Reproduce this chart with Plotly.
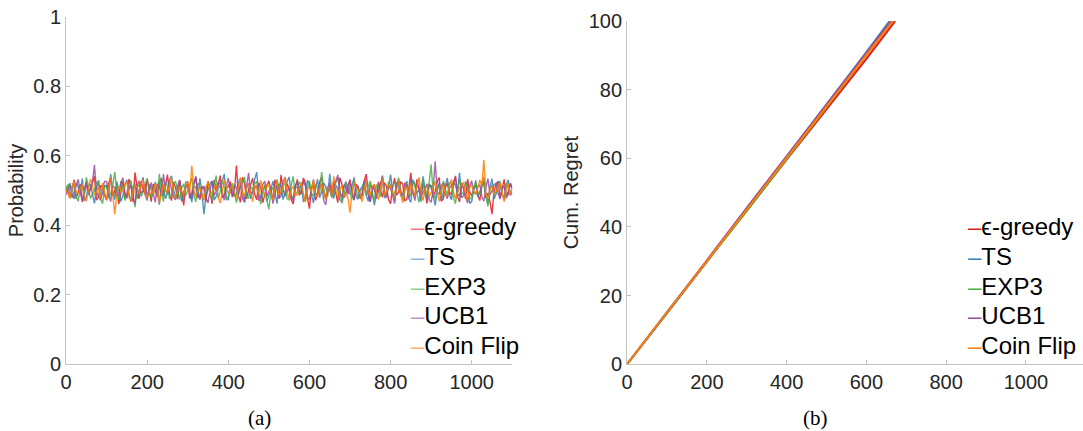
import plotly.graph_objects as go

# colours (Set1)
RED = "#e41a1c"
BLUE = "#377eb8"
GREEN = "#4daf4a"
PURPLE = "#984ea3"
ORANGE = "#ff7f00"
PALE = ["#f07a7b", "#8ab4d9", "#92cf90", "#c497cc", "#ffb266"]

FONT = "Liberation Sans, Arial, Helvetica, sans-serif"
SERIF = "Liberation Serif, Times New Roman, serif"
TICK_COLOR = "#262626"
AXIS_COLOR = "#c4c4c4"

names = ["ϵ-greedy", "TS", "EXP3", "UCB1", "Coin Flip"]
colors = [RED, BLUE, GREEN, PURPLE, ORANGE]

# ---- panel (a): probability per step (read every 5 steps) ----
steps = list(range(0, 1101, 5))

prob_eps = [
    0.512, 0.493, 0.478, 0.507, 0.531, 0.476, 0.495, 0.518, 0.467, 0.489, 0.524, 0.497, 0.503, 0.526, 0.541, 0.472, 0.482, 0.515, 0.509, 0.486,
    0.472, 0.521, 0.537, 0.484, 0.498, 0.512, 0.461, 0.495, 0.526, 0.478, 0.489, 0.533, 0.515, 0.468, 0.552, 0.509, 0.476, 0.527, 0.503, 0.491,
    0.534, 0.502, 0.468, 0.519, 0.497, 0.483, 0.521, 0.536, 0.484, 0.511, 0.546, 0.488, 0.471, 0.524, 0.508, 0.475, 0.529, 0.498, 0.457, 0.514,
    0.516, 0.477, 0.493, 0.521, 0.538, 0.489, 0.474, 0.512, 0.505, 0.468, 0.527, 0.495, 0.462, 0.531, 0.499, 0.516, 0.543, 0.479, 0.487, 0.508,
    0.511, 0.526, 0.481, 0.497, 0.572, 0.484, 0.466, 0.538, 0.519, 0.476, 0.502, 0.517, 0.535, 0.489, 0.473, 0.522, 0.508, 0.465, 0.491, 0.513,
    0.528, 0.492, 0.469, 0.531, 0.514, 0.478, 0.545, 0.503, 0.483, 0.519, 0.506, 0.474, 0.461, 0.507, 0.532, 0.486, 0.497, 0.536, 0.522, 0.481,
    0.448, 0.509, 0.513, 0.472, 0.487, 0.524, 0.539, 0.496, 0.476, 0.512, 0.501, 0.483, 0.526, 0.491, 0.465, 0.537, 0.518, 0.479, 0.494, 0.515,
    0.531, 0.496, 0.472, 0.518, 0.509, 0.476, 0.487, 0.528, 0.547, 0.492, 0.468, 0.514, 0.503, 0.485, 0.525, 0.499, 0.481, 0.523, 0.512, 0.473,
    0.462, 0.509, 0.536, 0.487, 0.495, 0.524, 0.519, 0.471, 0.474, 0.506, 0.551, 0.493, 0.486, 0.532, 0.508, 0.477, 0.529, 0.498, 0.463, 0.517,
    0.514, 0.481, 0.498, 0.526, 0.537, 0.469, 0.476, 0.508, 0.521, 0.494, 0.489, 0.517, 0.542, 0.483, 0.467, 0.522, 0.505, 0.476, 0.533, 0.497,
    0.484, 0.503, 0.516, 0.488, 0.471, 0.512, 0.527, 0.479, 0.493, 0.468, 0.432, 0.497, 0.518, 0.526, 0.479, 0.504, 0.532, 0.485, 0.496, 0.521, 0.509,
]
prob_ts = [
    0.495, 0.508, 0.521, 0.489, 0.476, 0.523, 0.508, 0.497, 0.534, 0.471, 0.482, 0.512, 0.517, 0.486, 0.463, 0.504, 0.529, 0.478, 0.491, 0.515,
    0.513, 0.482, 0.547, 0.499, 0.474, 0.526, 0.502, 0.468, 0.485, 0.514, 0.531, 0.492, 0.468, 0.509, 0.519, 0.477, 0.496, 0.521, 0.538, 0.487,
    0.471, 0.517, 0.506, 0.484, 0.525, 0.498, 0.459, 0.521, 0.512, 0.476, 0.493, 0.531, 0.542, 0.503, 0.478, 0.495, 0.516, 0.468, 0.487, 0.524,
    0.524, 0.491, 0.467, 0.512, 0.509, 0.478, 0.535, 0.494, 0.432, 0.486, 0.501, 0.519, 0.528, 0.472, 0.483, 0.506, 0.514, 0.527, 0.548, 0.481,
    0.472, 0.516, 0.507, 0.483, 0.489, 0.524, 0.536, 0.497, 0.465, 0.509, 0.521, 0.476, 0.498, 0.532, 0.553, 0.488, 0.479, 0.502, 0.511, 0.469,
    0.486, 0.503, 0.527, 0.491, 0.462, 0.518, 0.515, 0.474, 0.493, 0.526, 0.539, 0.487, 0.474, 0.511, 0.508, 0.495, 0.522, 0.467, 0.481, 0.529,
    0.517, 0.488, 0.464, 0.507, 0.533, 0.479, 0.496, 0.521, 0.512, 0.484, 0.548, 0.498, 0.477, 0.516, 0.504, 0.473, 0.469, 0.512, 0.526, 0.494,
    0.491, 0.514, 0.538, 0.482, 0.475, 0.503, 0.511, 0.527, 0.486, 0.469, 0.523, 0.496, 0.458, 0.489, 0.507, 0.521, 0.532, 0.478, 0.494, 0.508,
    0.546, 0.497, 0.471, 0.524, 0.513, 0.485, 0.488, 0.509, 0.527, 0.476, 0.466, 0.531, 0.519, 0.492, 0.503, 0.468, 0.541, 0.505, 0.478, 0.517,
    0.509, 0.486, 0.457, 0.498, 0.524, 0.471, 0.492, 0.513, 0.536, 0.489, 0.473, 0.522, 0.515, 0.494, 0.551, 0.479, 0.484, 0.526, 0.506, 0.463,
    0.468, 0.502, 0.529, 0.481, 0.497, 0.513, 0.518, 0.487, 0.462, 0.509, 0.534, 0.476, 0.489, 0.527, 0.512, 0.491, 0.475, 0.514, 0.531, 0.486, 0.493,
]
prob_exp3 = [
    0.503, 0.519, 0.486, 0.497, 0.524, 0.481, 0.469, 0.506, 0.512, 0.488, 0.538, 0.514, 0.477, 0.492, 0.501, 0.523, 0.527, 0.476, 0.462, 0.508,
    0.516, 0.478, 0.491, 0.512, 0.554, 0.496, 0.473, 0.527, 0.508, 0.471, 0.485, 0.503, 0.529, 0.489, 0.452, 0.509, 0.517, 0.482, 0.496, 0.521,
    0.534, 0.493, 0.479, 0.511, 0.506, 0.487, 0.548, 0.502, 0.468, 0.524, 0.513, 0.476, 0.492, 0.518, 0.527, 0.498, 0.474, 0.507, 0.519, 0.485,
    0.501, 0.514, 0.536, 0.489, 0.467, 0.521, 0.511, 0.483, 0.488, 0.506, 0.525, 0.497, 0.471, 0.512, 0.543, 0.478, 0.496, 0.529, 0.508, 0.472,
    0.483, 0.506, 0.521, 0.494, 0.465, 0.489, 0.514, 0.527, 0.539, 0.482, 0.478, 0.511, 0.503, 0.519, 0.526, 0.487, 0.461, 0.498, 0.517, 0.473,
    0.446, 0.497, 0.509, 0.482, 0.532, 0.508, 0.487, 0.521, 0.518, 0.476, 0.473, 0.514, 0.541, 0.489, 0.495, 0.526, 0.512, 0.483, 0.468, 0.505,
    0.528, 0.492, 0.484, 0.517, 0.507, 0.488, 0.553, 0.509, 0.476, 0.497, 0.514, 0.479, 0.491, 0.524, 0.535, 0.501, 0.463, 0.486, 0.521, 0.513,
    0.497, 0.474, 0.532, 0.506, 0.479, 0.495, 0.511, 0.522, 0.486, 0.513, 0.527, 0.488, 0.469, 0.517, 0.508, 0.481, 0.544, 0.499, 0.482, 0.526,
    0.516, 0.485, 0.493, 0.519, 0.537, 0.502, 0.471, 0.496, 0.524, 0.478, 0.489, 0.528, 0.512, 0.491, 0.466, 0.507, 0.531, 0.484, 0.498, 0.521,
    0.575, 0.492, 0.474, 0.513, 0.509, 0.487, 0.528, 0.501, 0.483, 0.524, 0.517, 0.479, 0.462, 0.506, 0.534, 0.488, 0.495, 0.519, 0.511, 0.476,
    0.478, 0.509, 0.523, 0.496, 0.487, 0.516, 0.539, 0.482, 0.454, 0.503, 0.514, 0.487, 0.496, 0.512, 0.527, 0.491, 0.473, 0.521, 0.508, 0.498, 0.492,
]
prob_ucb1 = [
    0.488, 0.503, 0.514, 0.479, 0.497, 0.516, 0.532, 0.494, 0.471, 0.508, 0.519, 0.486, 0.505, 0.523, 0.574, 0.497, 0.483, 0.472, 0.511, 0.526,
    0.526, 0.489, 0.468, 0.512, 0.509, 0.483, 0.491, 0.521, 0.537, 0.496, 0.477, 0.507, 0.515, 0.478, 0.462, 0.514, 0.528, 0.492, 0.499, 0.518,
    0.482, 0.507, 0.523, 0.491, 0.466, 0.519, 0.511, 0.484, 0.547, 0.502, 0.489, 0.526, 0.506, 0.481, 0.473, 0.513, 0.531, 0.488, 0.495, 0.509,
    0.518, 0.493, 0.476, 0.514, 0.541, 0.482, 0.487, 0.508, 0.512, 0.479, 0.464, 0.501, 0.527, 0.486, 0.498, 0.522, 0.519, 0.497, 0.472, 0.511,
    0.536, 0.498, 0.485, 0.517, 0.509, 0.489, 0.523, 0.476, 0.468, 0.512, 0.551, 0.494, 0.492, 0.506, 0.514, 0.471, 0.479, 0.518, 0.527, 0.484,
    0.497, 0.511, 0.462, 0.492, 0.518, 0.477, 0.484, 0.523, 0.539, 0.496, 0.506, 0.481, 0.471, 0.514, 0.525, 0.502, 0.489, 0.527, 0.513, 0.478,
    0.476, 0.506, 0.531, 0.487, 0.494, 0.512, 0.517, 0.473, 0.458, 0.499, 0.522, 0.486, 0.501, 0.528, 0.545, 0.493, 0.481, 0.516, 0.509, 0.489,
    0.526, 0.495, 0.474, 0.508, 0.512, 0.483, 0.491, 0.519, 0.533, 0.486, 0.467, 0.504, 0.518, 0.476, 0.497, 0.522, 0.541, 0.491, 0.479, 0.513,
    0.505, 0.487, 0.462, 0.511, 0.528, 0.496, 0.486, 0.523, 0.514, 0.478, 0.535, 0.492, 0.471, 0.517, 0.509, 0.484, 0.493, 0.506, 0.519, 0.474,
    0.466, 0.503, 0.584, 0.497, 0.488, 0.514, 0.521, 0.489, 0.476, 0.508, 0.512, 0.526, 0.539, 0.491, 0.483, 0.516, 0.507, 0.482, 0.464, 0.511,
    0.528, 0.494, 0.491, 0.512, 0.516, 0.483, 0.469, 0.508, 0.534, 0.487, 0.499, 0.517, 0.521, 0.492, 0.475, 0.506, 0.512, 0.478, 0.487, 0.519, 0.503,
]
prob_coin = [
    0.501, 0.489, 0.478, 0.512, 0.527, 0.496, 0.492, 0.508, 0.516, 0.481, 0.469, 0.503, 0.533, 0.514, 0.487, 0.497, 0.509, 0.476, 0.521, 0.494,
    0.474, 0.507, 0.538, 0.491, 0.432, 0.486, 0.512, 0.503, 0.496, 0.518, 0.524, 0.482, 0.468, 0.499, 0.515, 0.511, 0.489, 0.523, 0.531, 0.488,
    0.477, 0.498, 0.506, 0.487, 0.521, 0.509, 0.463, 0.492, 0.518, 0.503, 0.494, 0.516, 0.536, 0.485, 0.479, 0.502, 0.511, 0.496, 0.488, 0.514,
    0.527, 0.493, 0.571, 0.502, 0.483, 0.499, 0.509, 0.488, 0.472, 0.511, 0.524, 0.486, 0.497, 0.507, 0.516, 0.482, 0.464, 0.495, 0.531, 0.509,
    0.491, 0.504, 0.513, 0.495, 0.478, 0.512, 0.537, 0.489, 0.486, 0.506, 0.519, 0.497, 0.468, 0.515, 0.508, 0.488, 0.529, 0.501, 0.482, 0.517,
    0.514, 0.493, 0.471, 0.506, 0.526, 0.487, 0.495, 0.511, 0.538, 0.498, 0.476, 0.503, 0.512, 0.484, 0.489, 0.509, 0.523, 0.492, 0.467, 0.505,
    0.508, 0.496, 0.532, 0.489, 0.484, 0.508, 0.519, 0.494, 0.473, 0.512, 0.505, 0.487, 0.541, 0.502, 0.479, 0.506, 0.514, 0.483, 0.491, 0.478,
    0.436, 0.497, 0.523, 0.509, 0.502, 0.488, 0.468, 0.501, 0.529, 0.493, 0.487, 0.512, 0.516, 0.496, 0.474, 0.507, 0.535, 0.486, 0.496, 0.514,
    0.512, 0.495, 0.478, 0.503, 0.527, 0.491, 0.465, 0.508, 0.509, 0.487, 0.521, 0.499, 0.486, 0.511, 0.538, 0.494, 0.471, 0.505, 0.513, 0.482,
    0.494, 0.507, 0.526, 0.492, 0.469, 0.501, 0.517, 0.488, 0.483, 0.512, 0.532, 0.497, 0.477, 0.493, 0.508, 0.515, 0.524, 0.486, 0.472, 0.509,
    0.515, 0.498, 0.489, 0.507, 0.531, 0.513, 0.588, 0.491, 0.476, 0.504, 0.512, 0.489, 0.497, 0.511, 0.523, 0.495, 0.468, 0.502, 0.519, 0.487, 0.505,
]

# ---- panel (b): cumulative regret (visible part up to 100) ----
regret_x_eps = [0, 100, 200, 300, 400, 500, 600, 672]
regret_eps = [0, 15.0, 29.8, 44.8, 59.6, 74.3, 89.0, 100]
regret_x_ts = [0, 100, 200, 300, 400, 500, 600, 658]
regret_ts = [0, 14.8, 30.0, 45.2, 60.5, 75.6, 91.0, 100]
regret_x_exp3 = [0, 100, 200, 300, 400, 500, 600, 665]
regret_exp3 = [0, 15.2, 30.0, 44.6, 59.8, 75.0, 90.2, 100]
regret_x_ucb1 = [0, 100, 200, 300, 400, 500, 600, 662]
regret_ucb1 = [0, 15.0, 30.3, 45.6, 60.6, 75.5, 90.5, 100]
regret_x_coin = [0, 100, 200, 300, 400, 500, 600, 666]
regret_coin = [0, 15.0, 30.0, 45.0, 60.2, 75.2, 90.0, 100]

prob_series = [prob_eps, prob_ts, prob_exp3, prob_ucb1, prob_coin]
regret_series = [
    (regret_x_eps, regret_eps),
    (regret_x_ts, regret_ts),
    (regret_x_exp3, regret_exp3),
    (regret_x_ucb1, regret_ucb1),
    (regret_x_coin, regret_coin),
]

fig = go.Figure()

for name, color, ys in zip(names, colors, prob_series):
    fig.add_trace(
        go.Scatter(
            x=steps,
            y=ys,
            name=name,
            mode="lines",
            line=dict(color=color, width=1.4),
            opacity=0.85,
            xaxis="x",
            yaxis="y",
            showlegend=False,
        )
    )

for name, color, (xs, ys) in zip(names, colors, regret_series):
    fig.add_trace(
        go.Scatter(
            x=xs,
            y=ys,
            name=name,
            mode="lines",
            line=dict(color=color, width=2),
            xaxis="x2",
            yaxis="y2",
            showlegend=False,
        )
    )

axis_common = dict(
    showline=True,
    linecolor=AXIS_COLOR,
    linewidth=1,
    showgrid=False,
    zeroline=False,
    automargin=False,
    ticks="inside",
    ticklen=4,
    tickcolor=AXIS_COLOR,
    tickfont=dict(family=FONT, size=20, color=TICK_COLOR),
)

# MATLAB-style compact legends, one text row per series
legend_rows_y = [227, 256.5, 286, 315.5, 345]  # row centres in pixels from top
annotations = []
for panel_x, dash_colors in [(409, PALE), (966, colors)]:
    for name, dcol, row_y in zip(names, dash_colors, legend_rows_y):
        annotations.append(
            dict(
                text=f"<span style='color:{dcol}'>–</span>{name}",
                x=panel_x / 1083, y=1 - row_y / 431,
                xref="paper", yref="paper",
                xanchor="left", yanchor="middle", showarrow=False,
                font=dict(family=FONT, size=24, color="black"),
            )
        )

for label, lx in [("(a)", 0.24), ("(b)", 0.753)]:
    annotations.append(
        dict(
            text=label, x=lx, y=0, xref="paper", yref="paper",
            xanchor="center", yanchor="bottom", showarrow=False, borderpad=0,
            font=dict(family=SERIF, size=21, color="black"),
        )
    )

fig.update_layout(
    width=1083,
    height=431,
    margin=dict(l=0, r=0, t=0, b=0),
    plot_bgcolor="white",
    paper_bgcolor="white",
    showlegend=False,
    xaxis=dict(
        axis_common,
        domain=[0.061, 0.473],
        range=[0, 1100],
        tickvals=[0, 200, 400, 600, 800, 1000],
        anchor="y",
    ),
    yaxis=dict(
        axis_common,
        domain=[0.155, 0.961],
        range=[0, 1],
        tickvals=[0, 0.2, 0.4, 0.6, 0.8, 1],
        ticktext=["0", "0.2", "0.4", "0.6", "0.8", "1"],
        anchor="x",
        title=dict(text="Probability", font=dict(family=FONT, size=20, color=TICK_COLOR), standoff=4),
    ),
    xaxis2=dict(
        axis_common,
        domain=[0.579, 1.0],
        range=[0, 1143],
        tickvals=[0, 200, 400, 600, 800, 1000],
        anchor="y2",
    ),
    yaxis2=dict(
        axis_common,
        domain=[0.155, 0.951],
        range=[0, 100],
        tickvals=[0, 20, 40, 60, 80, 100],
        anchor="x2",
        title=dict(text="Cum. Regret", font=dict(family=FONT, size=20, color=TICK_COLOR), standoff=4),
    ),
    annotations=annotations,
)

# drop the browser's default 8px body margin so the figure fills the window
fig.write_html(
    "out.html",
    config={"displayModeBar": False},
    post_script="document.body.style.margin='0px';",
)
